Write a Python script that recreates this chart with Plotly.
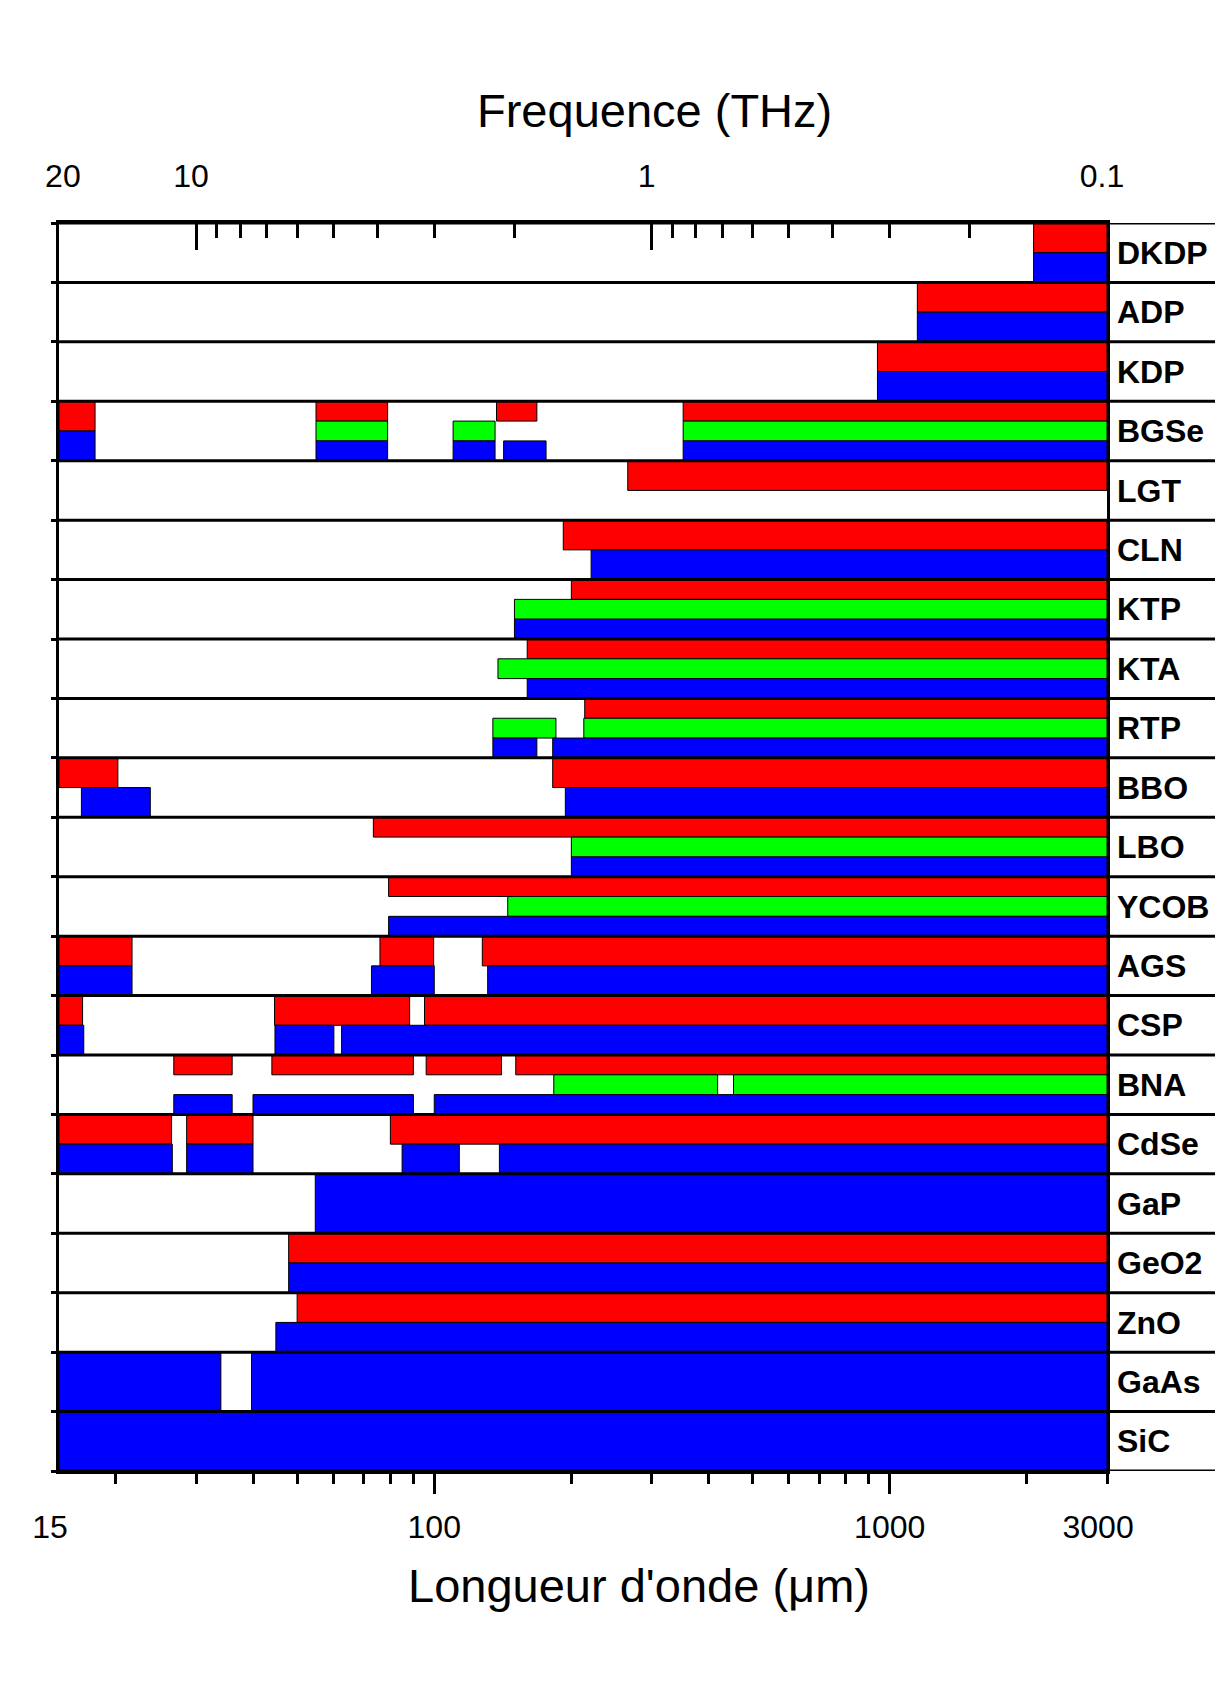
import numpy as np
import plotly.graph_objects as go

# ----------------------------------------------------------------------
# Data : transparency windows (wavelength in um) per crystal and colour
# ----------------------------------------------------------------------
materials = ['DKDP', 'ADP', 'KDP', 'BGSe', 'LGT', 'CLN', 'KTP', 'KTA', 'RTP',
             'BBO', 'LBO', 'YCOB', 'AGS', 'CSP', 'BNA', 'CdSe', 'GaP',
             'GeO2', 'ZnO', 'GaAs', 'SiC']

red_ranges = {
    'DKDP': [(2070, 3000)],
    'ADP': [(1150, 3000)],
    'KDP': [(940, 3000)],
    'BGSe': [(15, 18), (55, 79), (137, 168), (352, 3000)],
    'LGT': [(266, 3000)],
    'CLN': [(192, 3000)],
    'KTP': [(200, 3000)],
    'KTA': [(160, 3000)],
    'RTP': [(214, 3000)],
    'BBO': [(15, 20.2), (182, 3000)],
    'LBO': [(73.5, 3000)],
    'YCOB': [(79.4, 3000)],
    'AGS': [(15, 21.7), (76, 99.7), (127.5, 3000)],
    'CSP': [(15, 16.9), (44.6, 88.3), (95.2, 3000)],
    'BNA': [(26.8, 36), (44, 90), (96, 140.5), (151, 3000)],
    'CdSe': [(15, 26.5), (28.6, 40), (80.1, 3000)],
    'GeO2': [(47.9, 3000)],
    'ZnO': [(50, 3000)],
}

green_ranges = {
    'BGSe': [(55, 79), (110, 136), (352, 3000)],
    'KTP': [(150, 3000)],
    'KTA': [(138, 3000)],
    'RTP': [(134.5, 185), (213, 3000)],
    'LBO': [(200, 3000)],
    'YCOB': [(145, 3000)],
    'BNA': [(183, 419), (454, 3000)],
}

blue_ranges = {
    'DKDP': [(2070, 3000)],
    'ADP': [(1150, 3000)],
    'KDP': [(940, 3000)],
    'BGSe': [(15, 18), (55, 79), (110, 136), (142, 176), (352, 3000)],
    'CLN': [(221, 3000)],
    'KTP': [(150, 3000)],
    'KTA': [(160, 3000)],
    'RTP': [(134.5, 168), (182, 3000)],
    'BBO': [(16.8, 23.8), (194, 3000)],
    'LBO': [(200, 3000)],
    'YCOB': [(79.4, 3000)],
    'AGS': [(15, 21.7), (72.8, 100), (131, 3000)],
    'CSP': [(15, 17), (44.7, 60.2), (62.6, 3000)],
    'BNA': [(26.8, 36), (40, 90), (100, 3000)],
    'CdSe': [(15, 26.6), (28.6, 40), (85, 113.5), (139, 3000)],
    'GaP': [(54.8, 3000)],
    'GeO2': [(47.9, 3000)],
    'ZnO': [(44.9, 3000)],
    'GaAs': [(15, 34), (39.7, 3000)],
    'SiC': [(15, 3000)],
}

# segments drawn as red/blue halves although the row is split in thirds
half_split_segments = {('BGSe', 15)}

wl_min, wl_max = 15, 3000
wl_labels = [15, 100, 1000, 3000]
wl_minor = [20, 30, 40, 50, 60, 70, 80, 90, 200, 300, 400, 500, 600, 700,
            800, 900, 2000, 3000]
wl_major = [100, 1000]
freq_labels = [20, 10, 1, 0.1]          # THz
freq_minor = [9, 8, 7, 6, 5, 4, 3, 2, 0.9, 0.8, 0.7, 0.6, 0.5, 0.4, 0.3, 0.2]

colors = {'red': '#ff0000', 'green': '#00ff00', 'blue': '#0000ff'}
FONT = 'Arial, Liberation Sans, sans-serif'
NB = '\u00a0\u00a0'   # nudges the corner labels like in the original


def lanes(mat):
    if mat in green_ranges:
        return ['red', 'green', 'blue']
    if mat in red_ranges:
        return ['red', 'blue']
    return ['blue']


fig = go.Figure()

for cname, ranges in [('red', red_ranges), ('green', green_ranges),
                      ('blue', blue_ranges)]:
    ys, ws, bases, lens, hov = [], [], [], [], []
    for i, mat in enumerate(materials):
        for (a, b) in ranges.get(mat, []):
            lane = lanes(mat)
            if (mat, a) in half_split_segments:
                lane = ['red', 'blue']
            n = len(lane)
            k = lane.index(cname)
            ys.append(i + (k + 0.5) / n)
            ws.append(1.0 / n)
            bases.append(a)
            lens.append(b - a)
            hov.append(f'{mat}: {a} - {b} µm')
    fig.add_trace(go.Bar(
        orientation='h', y=ys, x=lens, base=bases, width=ws,
        marker=dict(color=colors[cname], line=dict(color='black', width=1)),
        hovertext=hov, hoverinfo='text', showlegend=False
    ))

# empty traces so that the extra axes (frequency, long ticks, labels) exist
for xa, ya in [('x2', 'y'), ('x3', 'y'), ('x', 'y2')]:
    fig.add_trace(go.Scatter(x=[None], y=[None], xaxis=xa, yaxis=ya,
                             mode='markers', showlegend=False,
                             hoverinfo='skip'))

n_rows = len(materials)
plot_w, plot_h = 1048, 1248
label_edge = 1 + 114 / plot_w

# row separators through plot and label column
for j in range(n_rows + 1):
    fig.add_shape(type='line', xref='paper', yref='y', x0=0, x1=label_edge,
                  y0=j, y1=j, line=dict(color='black', width=3))
fig.add_shape(type='line', xref='paper', yref='y', x0=label_edge,
              x1=label_edge, y0=0, y1=n_rows,
              line=dict(color='black', width=2))

# axis titles, placed like in the original figure
fig.add_annotation(text='Frequence (THz)', xref='paper', yref='paper',
                   x=0.568, y=1.0905, xanchor='center', yanchor='middle',
                   showarrow=False, font=dict(size=47))
fig.add_annotation(text="Longueur d'onde (μm)", xref='paper', yref='paper',
                   x=0.553, y=-0.0921, xanchor='center', yanchor='middle',
                   showarrow=False, font=dict(size=47))

wl_text = [str(v) for v in wl_labels]
wl_text[0] = wl_text[0] + NB
wl_text[-1] = wl_text[-1] + NB
freq_text = [f'{f:g}' for f in freq_labels]
freq_text[0] = NB + freq_text[0]

log_range = [np.log10(wl_min), np.log10(wl_max)]
common = dict(type='log', range=log_range, showgrid=False, zeroline=False,
              automargin=False)

fig.update_layout(
    # page body has an 8px margin, so the figure is trimmed by that amount
    width=1215, height=1673,
    margin=dict(l=51, r=116, t=215, b=210),
    paper_bgcolor='white', plot_bgcolor='rgba(0,0,0,0)',
    barmode='overlay',
    font=dict(family=FONT, color='black'),
    xaxis=dict(
        **common,
        tickvals=wl_labels, ticktext=wl_text,
        ticks='', tickfont=dict(size=32), ticklabelstandoff=26,
        showline=True, linewidth=3, linecolor='black',
        minor=dict(tickvals=wl_minor, ticks='outside', ticklen=10,
                   tickwidth=3, tickcolor='black', showgrid=False),
    ),
    xaxis3=dict(
        **common, overlaying='x', side='bottom', anchor='y',
        tickvals=wl_major, showticklabels=False,
        ticks='outside', ticklen=22, tickwidth=3, tickcolor='black',
        showline=False,
    ),
    xaxis2=dict(
        **common, overlaying='x', side='top', anchor='y',
        tickvals=[300 / f for f in freq_labels], ticktext=freq_text,
        ticks='inside', ticklen=27, tickwidth=3, tickcolor='black',
        tickfont=dict(size=32), ticklabelstandoff=20, ticklabelshift=-5,
        showline=True, linewidth=3, linecolor='black',
        minor=dict(tickvals=[300 / f for f in freq_minor], ticks='inside',
                   ticklen=15, tickwidth=3, tickcolor='black',
                   showgrid=False),
    ),
    yaxis=dict(
        range=[n_rows, 0], tickvals=list(range(n_rows + 1)),
        showticklabels=False, ticks='outside', ticklen=5, tickwidth=3,
        tickcolor='black', showgrid=False, zeroline=False, automargin=False,
        showline=True, linewidth=3, linecolor='black', mirror=True,
    ),
    yaxis2=dict(
        range=[n_rows, 0], overlaying='y', side='right', anchor='x',
        tickvals=[i + 0.5 for i in range(n_rows)], ticktext=materials,
        ticks='', tickfont=dict(size=32, weight='bold'),
        ticklabelstandoff=9, showgrid=False, zeroline=False,
        showline=False, automargin=False,
    ),
)

fig.write_html("out.html")
